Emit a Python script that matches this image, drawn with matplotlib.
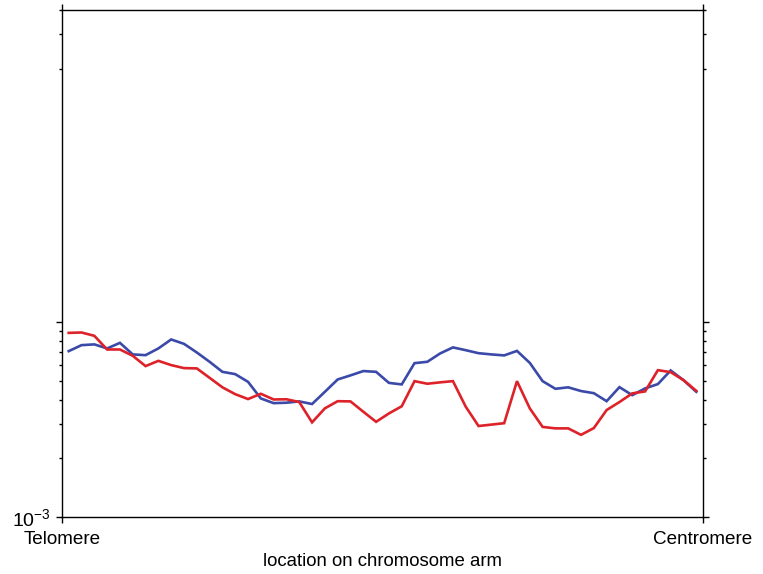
import numpy as np
import matplotlib
matplotlib.use("Agg")
import matplotlib.pyplot as plt
from matplotlib.ticker import FixedLocator, FixedFormatter, NullFormatter

plt.rcParams['font.family'] = ['Liberation Sans', 'DejaVu Sans']
plt.rcParams['mathtext.fontset'] = 'custom'
plt.rcParams['mathtext.rm'] = 'Liberation Sans'

# 50 bins along the arm, telomere -> centromere
n_bins = 50
blue = [7.10e-3, 7.62e-3, 7.69e-3, 7.33e-3, 7.83e-3, 6.83e-3, 6.77e-3, 7.33e-3, 8.15e-3, 7.74e-3,
        6.99e-3, 6.26e-3, 5.56e-3, 5.41e-3, 4.94e-3, 4.06e-3, 3.84e-3, 3.86e-3, 3.92e-3, 3.80e-3,
        4.39e-3, 5.08e-3, 5.33e-3, 5.61e-3, 5.56e-3, 4.88e-3, 4.79e-3, 6.16e-3, 6.26e-3, 6.91e-3,
        7.42e-3, 7.18e-3, 6.93e-3, 6.83e-3, 6.75e-3, 7.12e-3, 6.18e-3, 4.98e-3, 4.55e-3, 4.63e-3,
        4.43e-3, 4.32e-3, 3.93e-3, 4.64e-3, 4.22e-3, 4.57e-3, 4.81e-3, 5.65e-3, 5.04e-3, 4.39e-3]
red = [8.81e-3, 8.85e-3, 8.51e-3, 7.24e-3, 7.24e-3, 6.72e-3, 5.95e-3, 6.33e-3, 6.02e-3, 5.81e-3,
       5.79e-3, 5.18e-3, 4.63e-3, 4.27e-3, 4.03e-3, 4.29e-3, 4.01e-3, 4.02e-3, 3.89e-3, 3.06e-3,
       3.61e-3, 3.93e-3, 3.92e-3, 3.47e-3, 3.08e-3, 3.40e-3, 3.70e-3, 4.98e-3, 4.83e-3, 4.91e-3,
       4.98e-3, 3.68e-3, 2.93e-3, 2.98e-3, 3.03e-3, 4.98e-3, 3.61e-3, 2.90e-3, 2.85e-3, 2.85e-3,
       2.64e-3, 2.86e-3, 3.54e-3, 3.89e-3, 4.31e-3, 4.41e-3, 5.67e-3, 5.54e-3, 5.04e-3, 4.44e-3]

x_ticklabels = ['Telomere', 'Centromere']
y_major = [1e-3, 1e-2]
y_minor = [2e-3, 3e-3, 4e-3, 5e-3, 6e-3, 7e-3, 8e-3, 9e-3, 0.2, 0.3, 0.4]

x = (np.arange(n_bins) + 0.5) / n_bins

fig = plt.figure(figsize=(7.63, 5.74), dpi=100)
ax = fig.add_axes([62.3/763, 1 - 517/574, 640.4/763, 507/574])

ax.plot(x, blue, color='#3b4aa9', lw=1.9, solid_joinstyle='miter')
ax.plot(x, red, color='#dd2229', lw=1.9, solid_joinstyle='miter')

ax.set_yscale('log')
ax.set_xlim(0, 1)
ax.set_ylim(1e-3, 0.4)

ax.yaxis.set_major_locator(FixedLocator(y_major))
ax.yaxis.set_major_formatter(FixedFormatter([r'$\mathregular{10^{-3}}$', '']))
ax.yaxis.set_minor_locator(FixedLocator(y_minor))
ax.yaxis.set_minor_formatter(NullFormatter())
ax.set_xticks([0, 1])
ax.set_xticklabels(x_ticklabels)

ax.tick_params(which='both', direction='out', top=True, right=True, width=1.0,
               labelsize=13.6, colors='black')
ax.tick_params(which='major', length=4.5)
ax.tick_params(which='minor', length=2.3)
ax.tick_params(axis='x', pad=5.5)
ax.tick_params(axis='y', pad=3.5, labelsize=14)
for s in ax.spines.values():
    s.set_linewidth(1.0)

ax.set_xlabel('location on chromosome arm', fontsize=13.4, labelpad=3.5)

fig.savefig('out.png', dpi=100)
